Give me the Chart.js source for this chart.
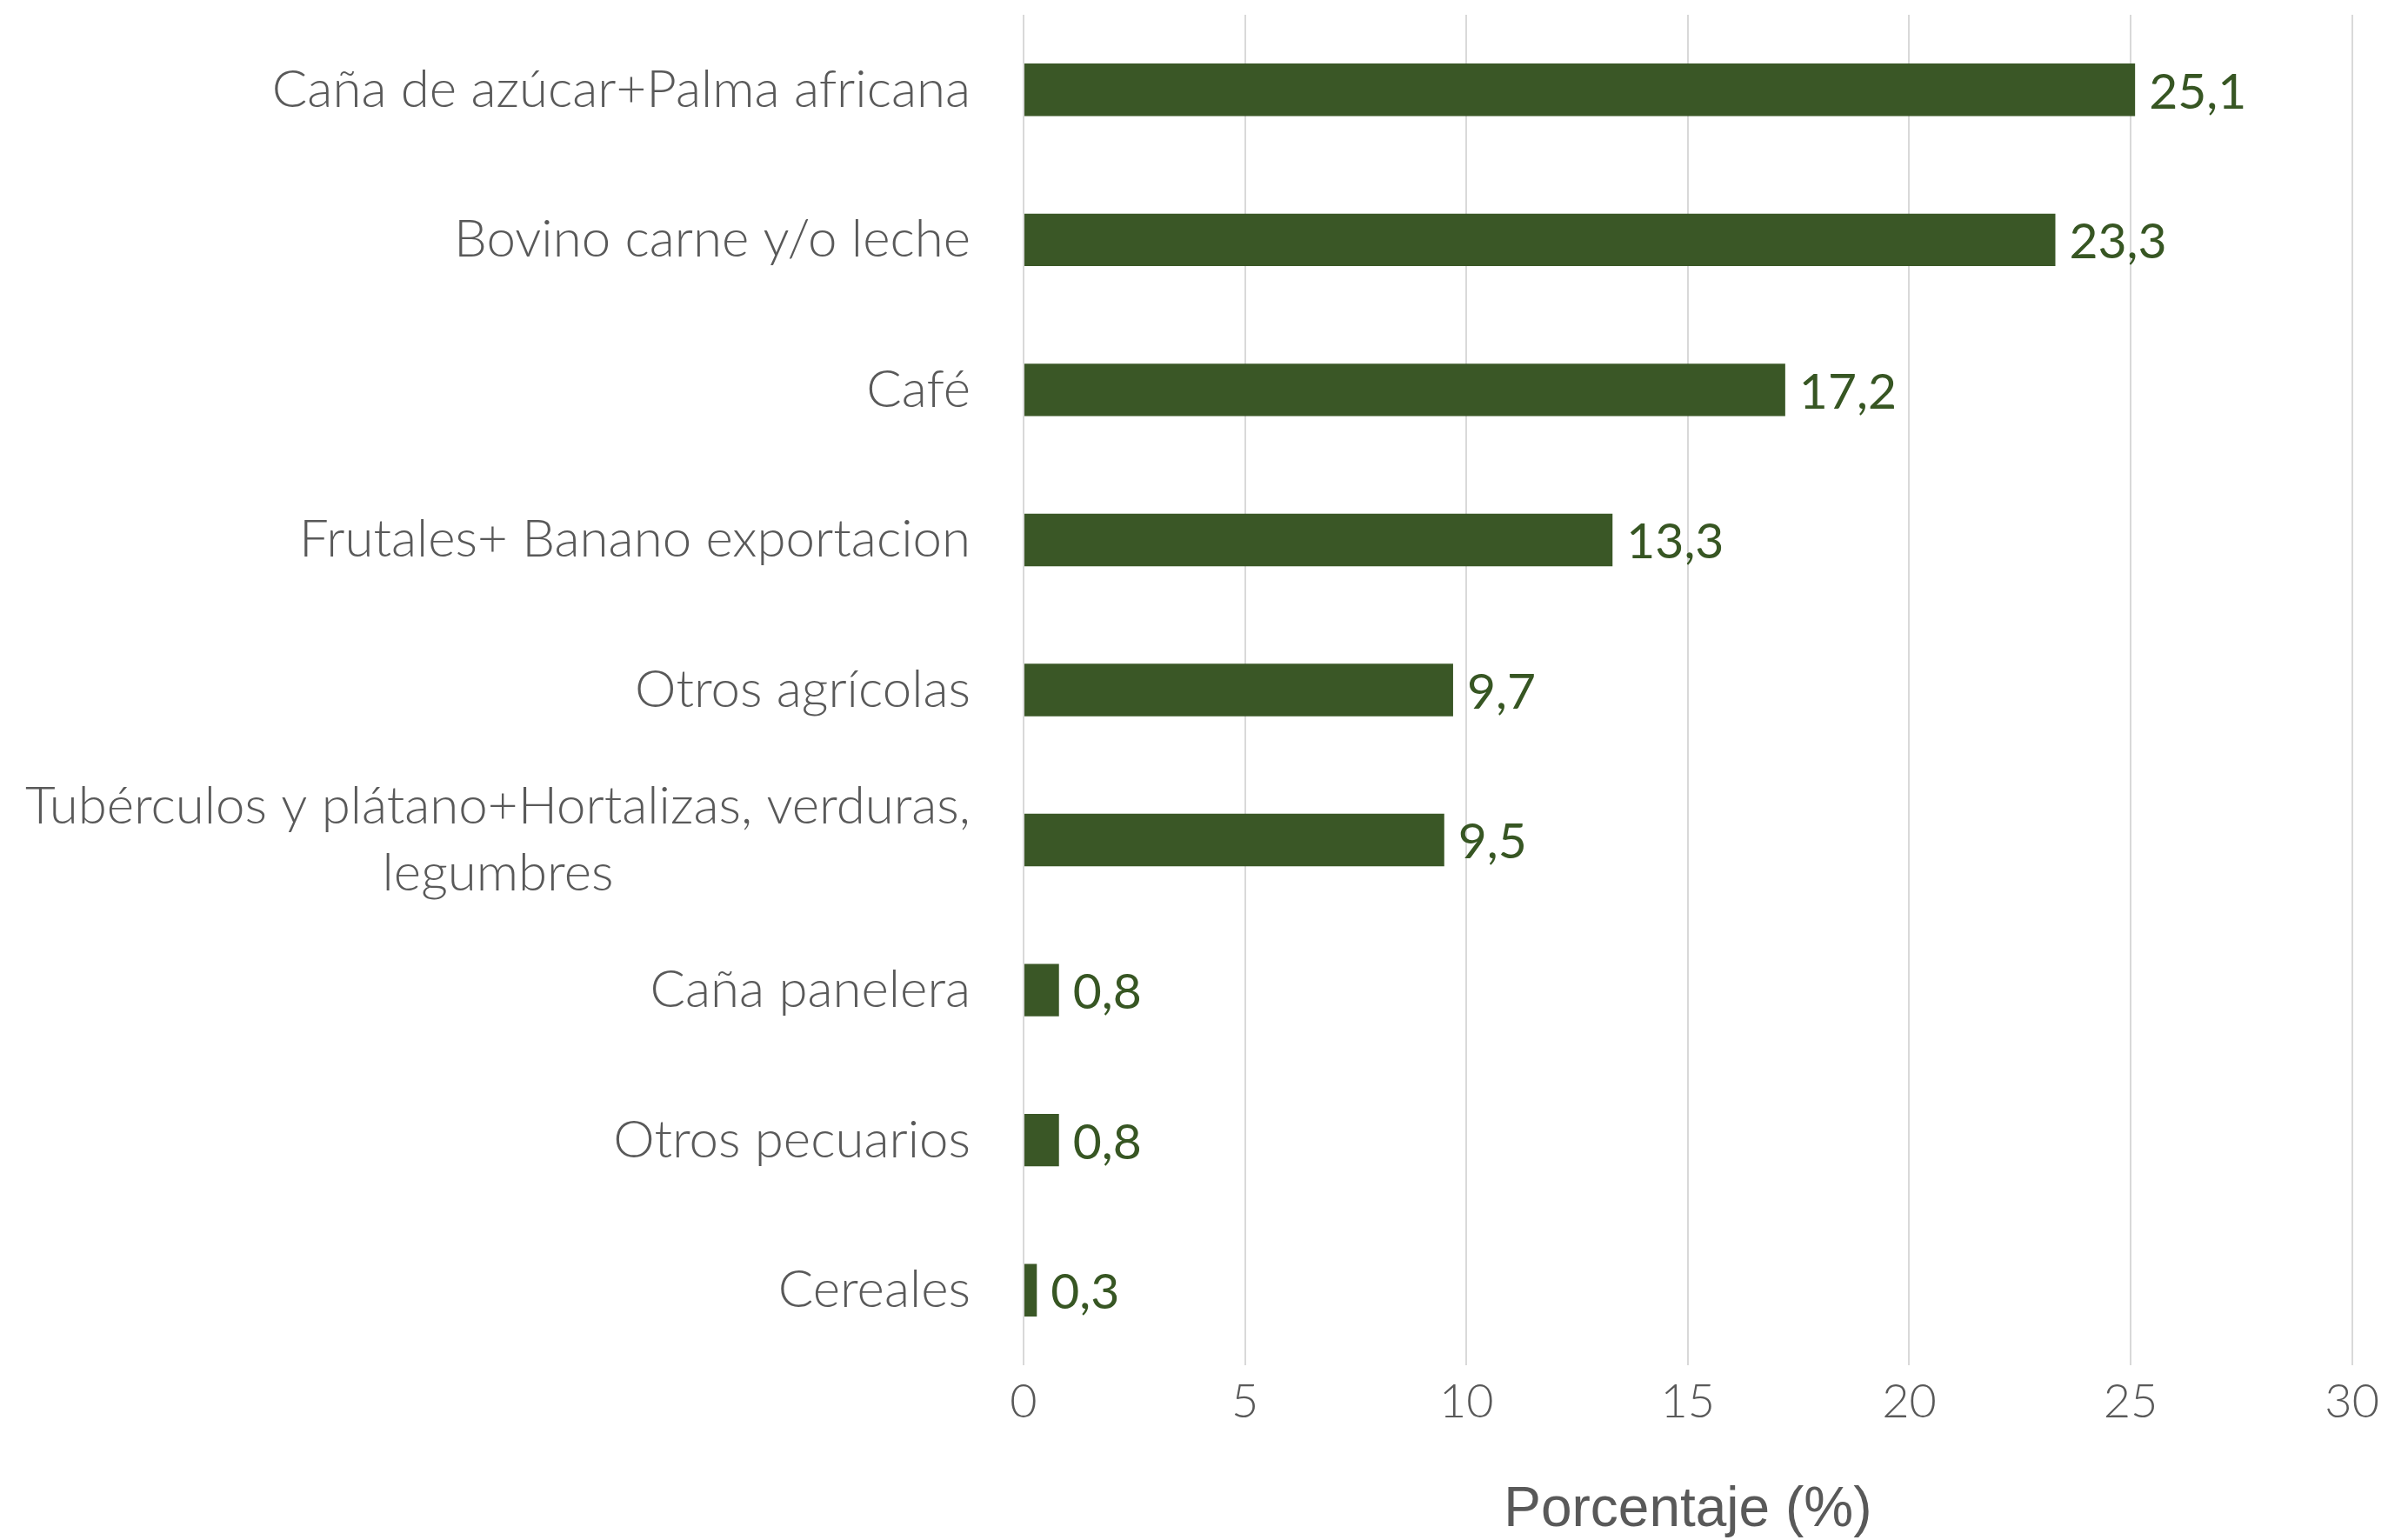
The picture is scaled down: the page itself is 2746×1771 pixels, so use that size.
<!DOCTYPE html>
<html>
<head>
<meta charset="utf-8">
<script src="https://cdn.jsdelivr.net/npm/chart.js@4"></script>
<style>
  html, body { margin: 0; padding: 0; background: #fff; }
  #wrap { width: 2746px; height: 1771px; position: relative; }
</style>
</head>
<body>
<div id="wrap"><canvas id="chart" width="2746" height="1771"></canvas></div>
<script>
// Chart data
const categories = [
    'Caña de azúcar+Palma africana',
    'Bovino carne y/o leche',
    'Café',
    'Frutales+ Banano exportacion',
    'Otros agrícolas',
    ['Tubérculos y plátano+Hortalizas, verduras,', 'legumbres'],
    'Caña panelera',
    'Otros pecuarios',
    'Cereales'
];
const percentages = [25.1, 23.3, 17.2, 13.3, 9.7, 9.5, 0.8, 0.8, 0.3];
const xTicks = [0, 5, 10, 15, 20, 25, 30];

const barColor = '#3A5726';
const labelColor = '#375623';
const textGray = '#595959';

// Category labels drawn by hand so the wrapped one is centred as a block
const categoryLabels = {
    id: 'categoryLabels',
    afterDraw(chart) {
        const ctx = chart.ctx;
        const yScale = chart.scales.y;
        const rightEdge = chart.chartArea.left - 61;
        ctx.save();
        ctx.font = '300 60px Lato, "Open Sans", sans-serif';
        ctx.fillStyle = textGray;
        ctx.textBaseline = 'middle';
        ctx.textAlign = 'center';
        categories.forEach((cat, i) => {
            const lines = Array.isArray(cat) ? cat : [cat];
            const widths = lines.map(l => ctx.measureText(l).width);
            const blockW = Math.max(...widths);
            const cx = rightEdge - blockW / 2;
            const lineH = 77;
            const yc = yScale.getPixelForValue(i);
            const y0 = yc - (lines.length - 1) * lineH / 2;
            lines.forEach((l, j) => ctx.fillText(l, cx, y0 + j * lineH));
        });
        ctx.restore();
    }
};

// Value labels at the end of each bar
const valueLabels = {
    id: 'valueLabels',
    afterDatasetsDraw(chart) {
        const ctx = chart.ctx;
        const meta = chart.getDatasetMeta(0);
        ctx.save();
        ctx.font = '57px Lato, "Open Sans", sans-serif';
        ctx.fillStyle = labelColor;
        ctx.textBaseline = 'middle';
        ctx.textAlign = 'left';
        meta.data.forEach((bar, i) => {
            const txt = percentages[i].toFixed(1).replace('.', ',');
            ctx.fillText(txt, bar.x + 16, bar.y + 3);
        });
        ctx.restore();
    }
};

const ctx = document.getElementById('chart').getContext('2d');
new Chart(ctx, {
    type: 'bar',
    data: {
        labels: categories,
        datasets: [{
            data: percentages,
            backgroundColor: barColor,
            borderWidth: 0,
            barPercentage: 1,
            categoryPercentage: 0.35
        }]
    },
    options: {
        indexAxis: 'y',
        responsive: false,
        animation: false,
        layout: {
            padding: { top: 17, right: 39, bottom: 0, left: 0 }
        },
        plugins: {
            legend: { display: false },
            tooltip: { enabled: false }
        },
        scales: {
            x: {
                min: 0,
                max: 30,
                afterBuildTicks(scale) {
                    scale.ticks = xTicks.map(v => ({ value: v }));
                },
                grid: {
                    color: '#D9D9D9',
                    lineWidth: 2,
                    drawTicks: false
                },
                border: { display: false },
                ticks: {
                    color: textGray,
                    padding: 10,
                    font: { family: 'Lato, "Open Sans", sans-serif', size: 54, weight: '300' }
                },
                title: {
                    display: true,
                    text: 'Porcentaje (%)',
                    color: textGray,
                    padding: { top: 30, bottom: 0 },
                    font: { family: '"Liberation Sans", Arial, sans-serif', size: 64, lineHeight: 1.05 }
                },
                afterFit(scale) {
                    scale.height = 201;
                }
            },
            y: {
                grid: { display: false },
                border: { display: false },
                ticks: { display: false },
                afterFit(scale) {
                    scale.width = 1177;
                }
            }
        }
    },
    plugins: [categoryLabels, valueLabels]
});
</script>
</body>
</html>
